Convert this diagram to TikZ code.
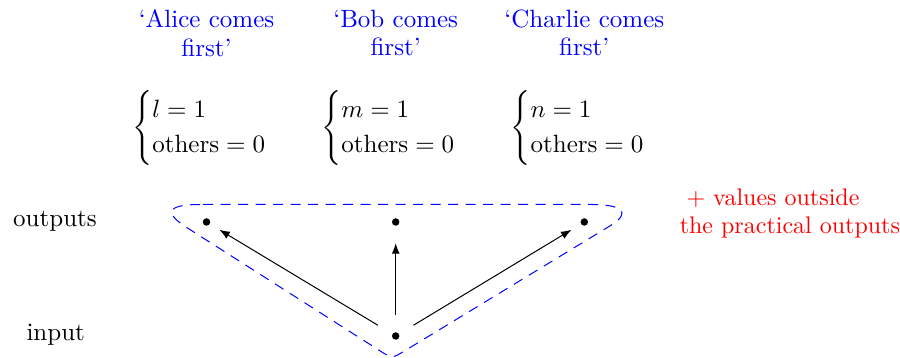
\documentclass[tikz,border=0pt]{standalone}
\usepackage{amsmath}
\usetikzlibrary{arrows.meta}
\begin{document}
\begin{tikzpicture}[x=0.4pt,y=-0.4pt,
  lbl/.style={blue,align=center,inner sep=0pt,anchor=north,font=\fontsize{10}{11.3}\selectfont},
  cs/.style={inner sep=0pt,anchor=base west,font=\fontsize{10}{11.7}\selectfont},
  txt/.style={inner sep=0pt,anchor=base,font=\fontsize{10}{11.3}\selectfont},
  note/.style={red,align=left,inner sep=0pt,anchor=north west,font=\fontsize{9.6}{11.3}\selectfont},
  dot/.style={circle,fill=black,inner sep=0pt,minimum size=3pt},
  arr/.style={-{Latex[length=4.2pt,width=3.2pt]},shorten <=6.6pt,shorten >=4.3pt},
  outline/.style={blue,dash pattern=on 4pt off 3pt}]
\useasboundingbox (0,0) rectangle (900,358);
% labels
\node[lbl] (ta) at (206.5,9.4) {`Alice comes\\first'};
\node[lbl] (tb) at (395.7,9.4) {`Bob comes\\first'};
\node[lbl] (tc) at (584.3,9.4) {`Charlie comes\\first'};
% cases
\node[cs] (ca) at (131.7,134.2) {$\begin{cases} l = 1\\ \text{others} = 0\end{cases}$};
\node[cs] (cb) at (320.8,134.2) {$\begin{cases} m = 1\\ \text{others} = 0\end{cases}$};
\node[cs] (cc) at (510,134.2) {$\begin{cases} n = 1\\ \text{others} = 0\end{cases}$};
% side labels
\node[txt] (lo) at (55,226.7) {outputs};
\node[txt] (li) at (55.7,340.7) {input};
\node[note] (rv) at (679.3,188.5) {\hspace*{2.7pt}+ values outside\\the practical outputs};
% dots
\node[dot] (o1) at (206.5,222) {};
\node[dot] (o2) at (395.7,222) {};
\node[dot] (o3) at (584.3,222) {};
\node[dot] (in) at (395.7,336) {};
% outline
\draw[outline] (200,204.5) .. controls (172,204.5) and (160,210.5) .. (187,227.7)
  -- (380.3,351) .. controls (392,358.5) .. (404.1,351.2)
  -- (610,225.9) .. controls (634,211.3) and (619,204.5) .. (592,204.5) -- cycle;
% arrows
\draw[arr] (in) -- (o1);
\draw[arr,shorten >=6.8pt] (in) -- (o2);
\draw[arr] (in) -- (o3);
\end{tikzpicture}
\end{document}
